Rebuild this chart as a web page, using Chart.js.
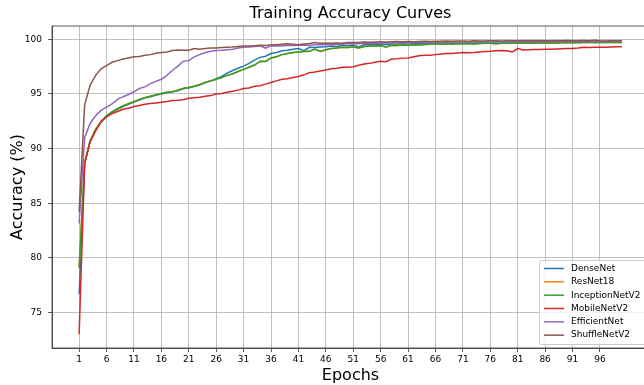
<!DOCTYPE html>
<html>
<head>
<meta charset="utf-8">
<script src="https://cdn.jsdelivr.net/npm/chart.js@4.4.1/dist/chart.umd.min.js"></script>
<style>
  body { margin: 0; overflow: hidden; background: #fff; }
  canvas { display: block; }
</style>
</head>
<body>
<canvas id="myChart" width="649" height="385"></canvas>
<script>
// epochs 1..100
const epochs = [];
for (let e = 1; e <= 100; e++) epochs.push(e);

const xTickLabels = [1, 6, 11, 16, 21, 26, 31, 36, 41, 46, 51, 56, 61, 66, 71, 76, 81, 86, 91, 96];
const yTickLabels = [75, 80, 85, 90, 95, 100];

const modelNames = ['DenseNet', 'ResNet18', 'InceptionNetV2', 'MobileNetV2', 'EfficientNet', 'ShuffleNetV2'];
const modelColors = ['#1f77b4', '#ff7f0e', '#2ca02c', '#d62728', '#9467bd', '#8c564b'];

const denseNet = [
    76.7, 88.6, 90.7, 91.7, 92.4, 92.95, 93.3, 93.6, 93.85, 94.05,
    94.25, 94.45, 94.65, 94.75, 94.9, 95.0, 95.1, 95.2, 95.3, 95.5,
    95.55, 95.7, 95.85, 96.05, 96.2, 96.4, 96.6, 96.9, 97.15, 97.35,
    97.55, 97.8, 98.1, 98.35, 98.45, 98.7, 98.8, 98.95, 99.0, 99.1,
    99.15, 98.97, 99.27, 99.25, 99.3, 99.33, 99.38, 99.35, 99.45, 99.42,
    99.48, 99.3, 99.5, 99.52, 99.5, 99.55, 99.53, 99.57, 99.55, 99.6,
    99.58, 99.6, 99.62, 99.6, 99.63, 99.65, 99.63, 99.66, 99.65, 99.67,
    99.66, 99.68, 99.67, 99.69, 99.7, 99.68, 99.7, 99.71, 99.7, 99.72,
    99.71, 99.72, 99.73, 99.72, 99.74, 99.73, 99.74, 99.75, 99.73, 99.75,
    99.74, 99.76, 99.75, 99.76, 99.77, 99.75, 99.77, 99.76, 99.77, 99.76
];

// hidden under InceptionNetV2 in the picture
const resNet18 = [
    79.1, 88.7, 90.7, 91.75, 92.45, 93.0, 93.35, 93.65, 93.9, 94.1,
    94.3, 94.5, 94.65, 94.8, 94.9, 95.05, 95.15, 95.2, 95.35, 95.5,
    95.6, 95.7, 95.85, 96.05, 96.2, 96.35, 96.5, 96.7, 96.85, 97.05,
    97.25, 97.45, 97.65, 98.0, 97.98, 98.3, 98.4, 98.6, 98.7, 98.8,
    98.85, 98.88, 98.9, 99.1, 98.9, 99.05, 99.15, 99.2, 99.27, 99.25,
    99.3, 99.2, 99.35, 99.38, 99.4, 99.42, 99.3, 99.45, 99.44, 99.47,
    99.45, 99.5, 99.48, 99.52, 99.55, 99.6, 99.55, 99.58, 99.6, 99.58,
    99.6, 99.62, 99.58, 99.62, 99.64, 99.63, 99.6, 99.64, 99.63, 99.65,
    99.64, 99.66, 99.65, 99.64, 99.67, 99.66, 99.68, 99.66, 99.69, 99.68,
    99.7, 99.69, 99.7, 99.71, 99.7, 99.72, 99.71, 99.72, 99.71, 99.72
];

const inceptionNetV2 = [
    79.1, 88.7, 90.7, 91.75, 92.45, 93.0, 93.35, 93.65, 93.9, 94.1,
    94.3, 94.5, 94.65, 94.8, 94.9, 95.05, 95.15, 95.2, 95.35, 95.5,
    95.6, 95.7, 95.85, 96.05, 96.2, 96.35, 96.5, 96.7, 96.85, 97.05,
    97.25, 97.45, 97.65, 98.0, 97.98, 98.3, 98.4, 98.6, 98.7, 98.8,
    98.85, 98.88, 98.9, 99.1, 98.9, 99.05, 99.15, 99.2, 99.27, 99.25,
    99.3, 99.2, 99.35, 99.38, 99.4, 99.42, 99.3, 99.45, 99.44, 99.47,
    99.45, 99.5, 99.48, 99.52, 99.55, 99.6, 99.55, 99.58, 99.6, 99.58,
    99.6, 99.62, 99.58, 99.62, 99.64, 99.63, 99.6, 99.64, 99.63, 99.65,
    99.64, 99.66, 99.65, 99.64, 99.67, 99.66, 99.68, 99.66, 99.69, 99.68,
    99.7, 99.69, 99.7, 99.71, 99.7, 99.72, 99.71, 99.72, 99.71, 99.72
];

const mobileNetV2 = [
    73.0, 88.6, 90.6, 91.6, 92.5, 92.9, 93.2, 93.4, 93.6, 93.7,
    93.85, 93.95, 94.05, 94.12, 94.18, 94.24, 94.3, 94.4, 94.42, 94.48,
    94.6, 94.65, 94.7, 94.8, 94.85, 95.0, 95.05, 95.15, 95.25, 95.35,
    95.5, 95.55, 95.7, 95.75, 95.9, 96.05, 96.2, 96.35, 96.4, 96.5,
    96.6, 96.75, 96.95, 97.0, 97.1, 97.2, 97.3, 97.35, 97.45, 97.45,
    97.5, 97.62, 97.75, 97.8, 97.9, 98.0, 97.95, 98.2, 98.22, 98.28,
    98.3, 98.4, 98.5, 98.55, 98.55, 98.6, 98.65, 98.7, 98.7, 98.75,
    98.8, 98.78, 98.8, 98.85, 98.88, 98.9, 98.95, 98.98, 98.95, 98.85,
    99.15, 99.03, 99.05, 99.07, 99.08, 99.1, 99.1, 99.12, 99.13, 99.15,
    99.15, 99.2, 99.27, 99.25, 99.27, 99.27, 99.28, 99.3, 99.31, 99.33
];

const efficientNet = [
    83.15, 91.0, 92.3, 93.0, 93.5, 93.8, 94.1, 94.5, 94.75, 94.95,
    95.2, 95.5, 95.65, 95.95, 96.15, 96.35, 96.7, 97.15, 97.55, 98.0,
    98.05, 98.4, 98.6, 98.8, 98.9, 98.97, 99.0, 99.05, 99.1, 99.2,
    99.27, 99.3, 99.35, 99.4, 99.2, 99.4, 99.42, 99.4, 99.45, 99.43,
    99.45, 99.48, 99.46, 99.5, 99.52, 99.5, 99.53, 99.55, 99.57, 99.6,
    99.62, 99.6, 99.64, 99.63, 99.66, 99.65, 99.68, 99.66, 99.7, 99.68,
    99.7, 99.72, 99.7, 99.73, 99.72, 99.74, 99.73, 99.75, 99.74, 99.76,
    99.75, 99.74, 99.76, 99.75, 99.77, 99.76, 99.75, 99.77, 99.76, 99.78,
    99.77, 99.78, 99.76, 99.78, 99.79, 99.78, 99.8, 99.79, 99.8, 99.79,
    99.8, 99.81, 99.8, 99.82, 99.8, 99.82, 99.81, 99.8, 99.82, 99.81
];

const shuffleNetV2 = [
    84.2, 94.0, 95.8, 96.7, 97.3, 97.6, 97.9, 98.05, 98.2, 98.3,
    98.4, 98.42, 98.55, 98.6, 98.72, 98.8, 98.85, 98.97, 99.03, 99.0,
    99.0, 99.15, 99.1, 99.15, 99.2, 99.2, 99.25, 99.28, 99.3, 99.35,
    99.4, 99.38, 99.42, 99.45, 99.43, 99.5, 99.5, 99.55, 99.6, 99.55,
    99.5, 99.58, 99.62, 99.7, 99.65, 99.63, 99.65, 99.66, 99.64, 99.7,
    99.72, 99.7, 99.75, 99.73, 99.76, 99.78, 99.75, 99.77, 99.8, 99.78,
    99.8, 99.77, 99.8, 99.82, 99.8, 99.83, 99.82, 99.84, 99.83, 99.85,
    99.84, 99.83, 99.86, 99.85, 99.84, 99.86, 99.87, 99.85, 99.86, 99.87,
    99.86, 99.88, 99.86, 99.87, 99.88, 99.87, 99.86, 99.88, 99.87, 99.89,
    99.88, 99.86, 99.9, 99.88, 99.92, 99.87, 99.85, 99.88, 99.86, 99.87
];

const allSeries = [denseNet, resNet18, inceptionNetV2, mobileNetV2, efficientNet, shuffleNetV2];

Chart.defaults.font.family = 'DejaVu Sans';
Chart.defaults.color = '#000';

// axes frame + matplotlib style legend in the lower right
const framePlugin = {
    id: 'frame',
    afterDraw(chart) {
        const ctx = chart.ctx;
        const a = chart.chartArea;
        ctx.save();
        ctx.strokeStyle = '#333';
        ctx.lineWidth = 0.8;
        ctx.strokeRect(a.left, a.top, a.right - a.left, a.bottom - a.top);

        const bx = 539, by = 260, bw = 120, bh = 84;
        ctx.fillStyle = 'rgba(255,255,255,0.8)';
        ctx.strokeStyle = '#cccccc';
        ctx.lineWidth = 1;
        ctx.beginPath();
        ctx.roundRect(bx + 0.5, by + 0.5, bw, bh, 2);
        ctx.fill();
        ctx.stroke();

        ctx.font = '9px "DejaVu Sans"';
        ctx.textBaseline = 'middle';
        chart.data.datasets.forEach(function(ds, i) {
            const yy = 268.5 + i * 13.33;
            ctx.strokeStyle = ds.borderColor;
            ctx.lineWidth = 1.5;
            ctx.beginPath();
            ctx.moveTo(544, yy);
            ctx.lineTo(564, yy);
            ctx.stroke();
            ctx.fillStyle = '#000';
            ctx.fillText(ds.label, 571, yy);
        });
        ctx.restore();
    }
};

const ctx = document.getElementById('myChart');
// eslint-disable-next-line no-unused-vars
const myChart = new Chart(ctx, {
    type: 'line',
    data: {
        datasets: modelNames.map(function(name, i) {
            return {
                label: name,
                data: epochs.map(function(e, j) { return {x: e, y: allSeries[i][j]}; }),
                borderColor: modelColors[i],
                backgroundColor: modelColors[i],
                borderWidth: 1.5,
                pointRadius: 0,
                tension: 0,
                order: modelNames.length - i
            };
        })
    },
    options: {
        responsive: false,
        animation: false,
        devicePixelRatio: 1,
        plugins: {
            legend: { display: false },
            tooltip: { enabled: false },
            title: {
                display: true,
                text: 'Training Accuracy Curves',
                fullSize: false,
                font: { size: 16, weight: 'normal' },
                padding: { top: 4, bottom: 2.8 },
                color: '#000'
            }
        },
        scales: {
            x: {
                type: 'linear',
                min: -3.95,
                max: 104.95,
                afterBuildTicks: function(scale) {
                    scale.ticks = xTickLabels.map(function(v) { return {value: v}; });
                },
                afterFit: function(scale) { scale.height = 37; },
                ticks: {
                    autoSkip: false,
                    maxRotation: 0,
                    padding: 2,
                    font: { size: 9 },
                    callback: function(v) { return String(v); }
                },
                grid: {
                    color: '#b0b0b0',
                    lineWidth: 0.8,
                    tickLength: 4,
                    tickColor: '#333',
                    tickWidth: 0.8
                },
                border: { display: true, color: '#333', width: 0.8 },
                title: {
                    display: true,
                    text: 'Epochs',
                    font: { size: 16 },
                    padding: { top: 0, bottom: 0 }
                }
            },
            y: {
                min: 71.75,
                max: 101.22,
                afterBuildTicks: function(scale) {
                    scale.ticks = yTickLabels.map(function(v) { return {value: v}; });
                },
                afterFit: function(scale) { scale.width = 52; },
                ticks: {
                    padding: 6,
                    font: { size: 9 },
                    callback: function(v) { return String(v); }
                },
                grid: {
                    color: '#b0b0b0',
                    lineWidth: 0.8,
                    tickLength: 4,
                    tickColor: '#333',
                    tickWidth: 0.8
                },
                border: { display: true, color: '#333', width: 0.8 },
                title: {
                    display: true,
                    text: 'Accuracy (%)',
                    font: { size: 16 },
                    padding: { top: 8, bottom: 0 }
                }
            }
        }
    },
    plugins: [framePlugin]
});
</script>
</body>
</html>
